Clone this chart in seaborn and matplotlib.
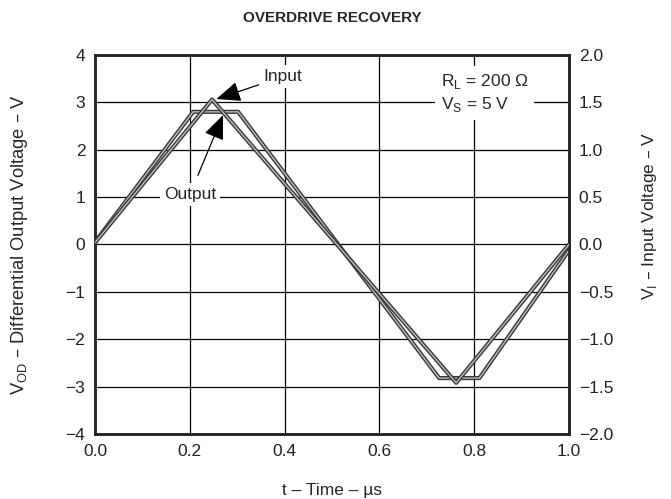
import numpy as np
import pandas as pd
import matplotlib
matplotlib.use("Agg")
import matplotlib.pyplot as plt
import matplotlib.patheffects as pe
import seaborn as sns

# Values
input_time = [0.0, 0.247, 0.762, 1.0]          # us
input_volt = [0.02, 1.53, -1.46, 0.0]          # V_I (right axis)
output_time = [0.0, 0.207, 0.302, 0.726, 0.811, 1.0]
output_volt = [0.05, 2.8, 2.8, -2.82, -2.82, -0.12]  # V_OD (left axis)

x_ticks = [0.0, 0.2, 0.4, 0.6, 0.8, 1.0]
left_ticks = [-4, -3, -2, -1, 0, 1, 2, 3, 4]
right_ticks = [-2.0, -1.5, -1.0, -0.5, 0.0, 0.5, 1.0, 1.5, 2.0]

sns.set_style("white")
plt.rcParams['font.family'] = ['Liberation Sans', 'DejaVu Sans']
plt.rcParams['font.size'] = 12.5

fig, ax = plt.subplots(figsize=(6.71, 4.99), dpi=100)
fig.subplots_adjust(left=0.1416, right=0.848, top=0.8898, bottom=0.1303)
ax2 = ax.twinx()

out_df = pd.DataFrame({"t": output_time, "v": output_volt})
in_df = pd.DataFrame({"t": input_time, "v": input_volt})

# double-line look of the scanned traces
trace_fx = [pe.Stroke(linewidth=3.0, foreground="#3a3a3a"), pe.Normal()]
sns.lineplot(data=out_df, x="t", y="v", ax=ax, color="#c8c8c8", lw=0.9,
             path_effects=trace_fx, zorder=3)
sns.lineplot(data=in_df, x="t", y="v", ax=ax2, color="#c8c8c8", lw=0.9,
             path_effects=trace_fx, zorder=3)

ax.set_xlim(0, 1.0)
ax.set_ylim(-4, 4)
ax2.set_ylim(-2, 2)
ax.set_xticks(x_ticks)
ax.set_xticklabels([f"{v:.1f}" for v in x_ticks])
ax.set_yticks(left_ticks)
ax.set_yticklabels([str(v).replace("-", "\u2212") for v in left_ticks])
ax2.set_yticks(right_ticks)
ax2.set_yticklabels([f"{v:.1f}".replace("-", "\u2212") for v in right_ticks])

ax.grid(True, color="black", lw=0.9)
ax.set_axisbelow(True)
for a in (ax, ax2):
    a.tick_params(length=0, pad=7, labelsize=12.5, colors="#222222")
    for s in a.spines.values():
        s.set_linewidth(1.8)
        s.set_color("#222222")

ax.set_xlabel("t \u2013 Time \u2013 \u00b5s")
ax.xaxis.set_label_coords(0.5, -0.13)
ax.set_ylabel("V$_{\\mathregular{OD}}$ \u2013 Differential Output Voltage \u2013 V", fontsize=13.2)
ax.yaxis.set_label_coords(-0.137, 0.5)
ax2.set_ylabel("V$_{\\mathregular{I}}$ \u2013 Input Voltage \u2013 V")
ax2.yaxis.set_label_coords(1.149, 0.575)
ax.set_title("OVERDRIVE RECOVERY", fontweight="bold", fontsize=11, pad=24)

box = dict(facecolor="white", edgecolor="none", pad=3)
ax.annotate("Input", xy=(0.256, 3.07), xytext=(0.355, 3.54),
            ha="left", va="center", bbox=box, zorder=5,
            arrowprops=dict(arrowstyle="-|>,head_length=1.2,head_width=0.5",
                            color="black", lw=0.9, shrinkA=0, shrinkB=0))
ax.annotate("Output", xy=(0.27, 2.73), xytext=(0.2, 1.05),
            ha="center", va="center", bbox=box, zorder=5,
            arrowprops=dict(arrowstyle="-|>,head_length=1.2,head_width=0.5",
                            color="black", lw=0.9, shrinkA=6, shrinkB=0))
ax.text(0.73, 3.2, "R$_{\\mathregular{L}}$ = 200 \u03a9\nV$_{\\mathregular{S}}$ = 5 V",
        ha="left", va="center", linespacing=1.3, bbox=dict(facecolor="white", edgecolor="none", pad=4),
        zorder=5)

fig.savefig("out.png", dpi=100)
